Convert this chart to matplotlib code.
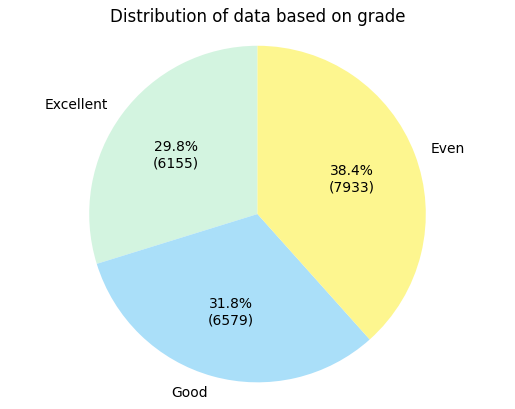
import matplotlib
matplotlib.use('Agg')
import matplotlib.pyplot as plt

#data
grades = ['Excellent', 'Good', 'Even']
counts = [6155, 6579, 7933]
colors = ['#d3f4e0', '#aadff9', '#fdf68f']

total = sum(counts)

def fmt(pct):
    val = int(round(pct * total / 100.0))
    return f'{pct:.1f}%\n({val})'

fig = plt.figure(figsize=(5.15, 4.1), dpi=100)
ax = fig.add_axes([0.0, 0.024, 1.0, 0.903])
ax.pie(counts, labels=grades, colors=colors, autopct=fmt, startangle=90)
ax.set_xlim(-1.1, 1.1)
ax.set_ylim(-1.1, 1.1)
ax.set_aspect('equal')
ax.set_title('Distribution of data based on grade')
plt.savefig('out.png')
